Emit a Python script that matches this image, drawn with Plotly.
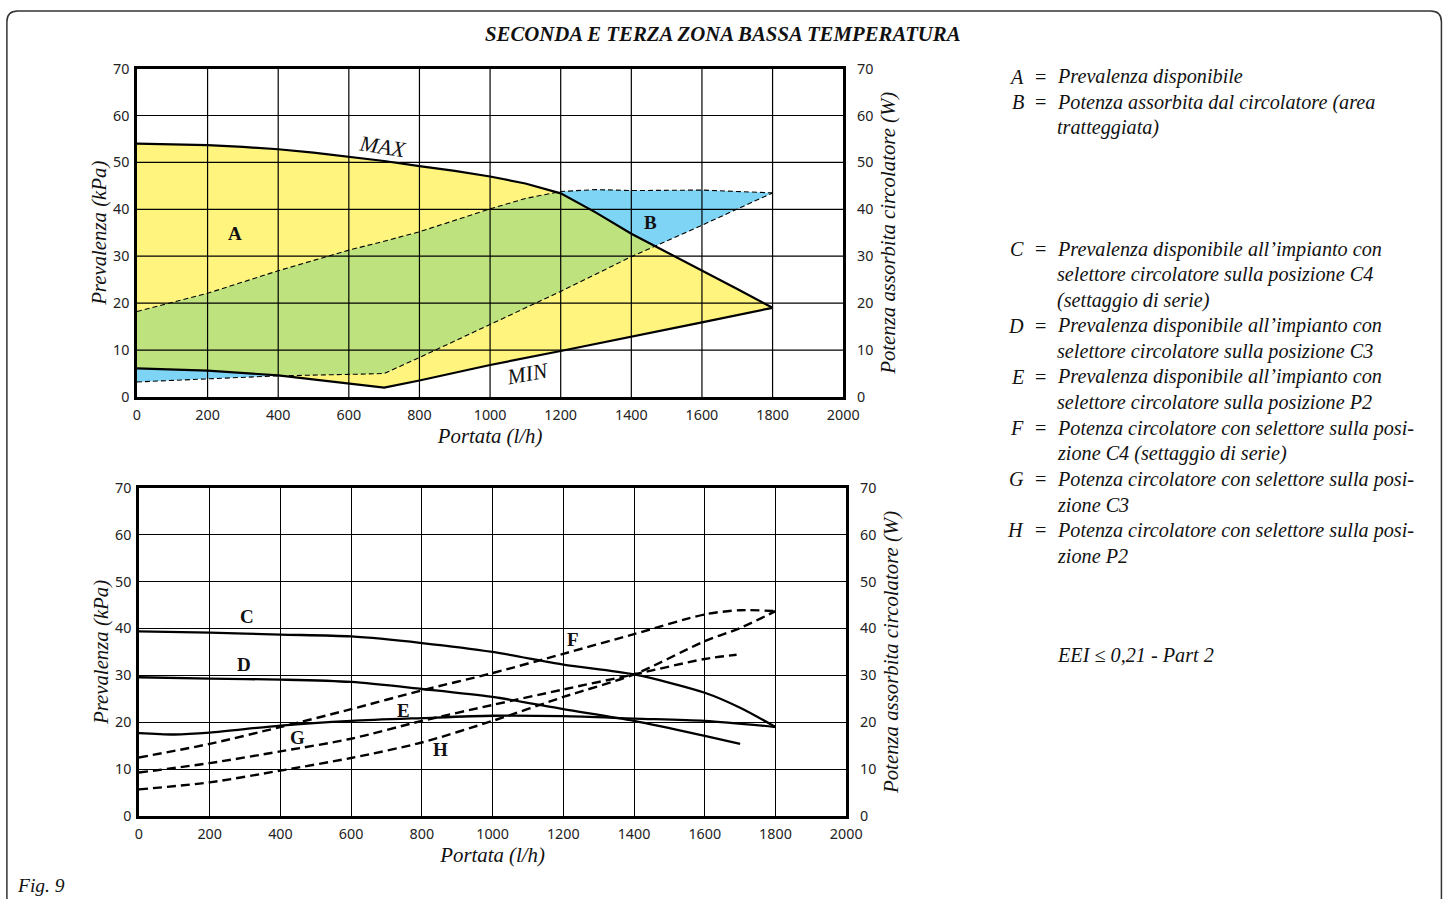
import numpy as np
import plotly.graph_objects as go

W, H = 1466, 908

# ---------------- data: top chart ----------------
MAX_X = [0, 100, 200, 300, 400, 500, 600, 700, 800, 900, 1000, 1100, 1200, 1300, 1400, 1500, 1600, 1700, 1800]
MAX_Y = [54.0, 53.9, 53.7, 53.3, 52.8, 52.1, 51.2, 50.3, 49.2, 48.2, 47.0, 45.5, 43.4, 39.3, 34.8, 30.9, 27.0, 23.0, 19.0]
MIN_X = [0, 200, 400, 600, 700, 800, 1000, 1200, 1400, 1600, 1800]
MIN_Y = [6.1, 5.6, 4.6, 2.8, 2.0, 3.5, 6.8, 9.8, 12.8, 15.9, 19.0]
PUP_X = [0, 200, 400, 600, 700, 800, 1000, 1100, 1200, 1300, 1400, 1600, 1800]
PUP_Y = [18.2, 22.1, 26.9, 31.3, 33.2, 35.2, 40.1, 42.3, 43.8, 44.2, 44.0, 44.1, 43.5]
PLO_X = [0, 200, 400, 600, 700, 800, 1000, 1200, 1400, 1600, 1800]
PLO_Y = [3.2, 3.9, 4.5, 4.8, 5.0, 8.4, 15.4, 22.5, 29.9, 36.6, 43.5]

# ---------------- data: bottom chart ----------------
C_X = [0, 200, 400, 600, 800, 1000, 1200, 1400, 1600, 1700, 1800]
C_Y = [39.4, 39.1, 38.7, 38.3, 36.9, 35.0, 32.3, 30.2, 26.3, 23.1, 19.0]
D_X = [0, 200, 400, 600, 800, 1000, 1200, 1400, 1600, 1700]
D_Y = [29.6, 29.3, 29.1, 28.6, 27.1, 25.4, 22.8, 20.3, 17.1, 15.4]
E_X = [0, 100, 200, 400, 600, 800, 1000, 1200, 1400, 1600, 1800]
E_Y = [17.7, 17.4, 17.8, 19.3, 20.3, 20.9, 21.4, 21.3, 20.8, 20.3, 19.0]
F_X = [0, 200, 400, 600, 800, 1000, 1200, 1400, 1600, 1700, 1800]
F_Y = [12.5, 15.4, 19.0, 22.8, 26.8, 30.5, 34.6, 38.8, 43.0, 43.9, 43.7]
G_X = [0, 200, 400, 600, 800, 1000, 1200, 1400, 1600, 1690]
G_Y = [9.3, 11.3, 13.8, 16.5, 20.3, 23.7, 27.0, 30.2, 33.5, 34.4]
H_X = [0, 200, 400, 600, 800, 1000, 1200, 1400, 1600, 1700, 1800]
H_Y = [5.7, 7.2, 9.7, 12.4, 15.7, 20.3, 25.4, 30.2, 37.3, 40.1, 43.7]

X_TICKS = list(range(0, 2001, 200))
Y_TICKS = list(range(0, 71, 10))

TITLE = "SECONDA E TERZA ZONA BASSA TEMPERATURA"
X_TITLE = "Portata (l/h)"
YL_TITLE = "Prevalenza (kPa)"
YR_TITLE = "Potenza assorbita circolatore (W)"

LEGEND_GROUP_1 = [
    ("A", "Prevalenza disponibile"),
    ("B", "Potenza assorbita dal circolatore (area"),
    ("", "tratteggiata)"),
]
LEGEND_GROUP_2 = [
    ("C", "Prevalenza disponibile all\u2019impianto con"),
    ("", "selettore circolatore sulla posizione C4"),
    ("", "(settaggio di serie)"),
    ("D", "Prevalenza disponibile all\u2019impianto con"),
    ("", "selettore circolatore sulla posizione C3"),
    ("E", "Prevalenza disponibile all\u2019impianto con"),
    ("", "selettore circolatore sulla posizione P2"),
    ("F", "Potenza circolatore con selettore sulla posi-"),
    ("", "zione C4 (settaggio di serie)"),
    ("G", "Potenza circolatore con selettore sulla posi-"),
    ("", "zione C3"),
    ("H", "Potenza circolatore con selettore sulla posi-"),
    ("", "zione P2"),
]
EEI_TEXT = "EEI \u2264 0,21 - Part 2"
FIG_TEXT = "Fig. 9"

YELLOW = "#FFF47E"
GREEN = "#BEE37E"
BLUE = "#7DD4F4"

SERIF = "Liberation Serif"
SANS = "Noto Sans"

# the captured picture is slightly scaled/offset relative to the page; compensate
SX, OX = 0.986, 4.1
SY, OY = 0.981, 8.3


def dx(X):
    return (X - OX) / SX


def dy(Y):
    return (Y - OY) / SY


def px(X):
    return min(max(dx(X) / W, 0.0), 1.0)


def py(Y):
    return min(max(1 - dy(Y) / H, 0.0), 1.0)


fig = go.Figure()

# ---------------- top chart fills (derived from the curves) ----------------
xs = np.linspace(0, 1800, 3601)
mx = np.interp(xs, MAX_X, MAX_Y)
mn = np.interp(xs, MIN_X, MIN_Y)
up = np.interp(xs, PUP_X, PUP_Y)
lo = np.interp(xs, PLO_X, PLO_Y)


def poly(upper, lower):
    m = upper > lower + 1e-9
    xv = xs[m]
    return np.concatenate([xv, xv[::-1]]), np.concatenate([upper[m], lower[m][::-1]])


def add_fill(upper, lower, color):
    fx, fy = poly(upper, lower)
    fig.add_trace(go.Scatter(x=fx, y=fy, fill="toself", fillcolor=color, mode="none",
                             hoverinfo="skip", showlegend=False, xaxis="x", yaxis="y"))


add_fill(mx, mn, YELLOW)
add_fill(np.minimum(up, mx), np.maximum(lo, mn), GREEN)
add_fill(up, np.maximum(lo, mx), BLUE)
add_fill(np.minimum(up, mn), lo, BLUE)

# top chart lines
for X, Y, dash, w in [(PUP_X, PUP_Y, "5px,3px", 1.1), (PLO_X, PLO_Y, "5px,3px", 1.1),
                      (MAX_X, MAX_Y, None, 2.2), (MIN_X, MIN_Y, None, 2.2)]:
    fig.add_trace(go.Scatter(x=X, y=Y, mode="lines", showlegend=False, hoverinfo="skip",
                             line=dict(color="black", width=w, dash=dash),
                             xaxis="x", yaxis="y"))

# ---------------- bottom chart lines ----------------
for X, Y in [(C_X, C_Y), (D_X, D_Y), (E_X, E_Y)]:
    fig.add_trace(go.Scatter(x=X, y=Y, mode="lines", showlegend=False, hoverinfo="skip",
                             line=dict(color="black", width=2.3, shape="spline", smoothing=0.8),
                             xaxis="x2", yaxis="y2"))
for X, Y in [(F_X, F_Y), (G_X, G_Y), (H_X, H_Y)]:
    fig.add_trace(go.Scatter(x=X, y=Y, mode="lines", showlegend=False, hoverinfo="skip",
                             line=dict(color="black", width=2.4, dash="9px,5px", shape="spline", smoothing=0.8),
                             xaxis="x2", yaxis="y2"))

# helper traces so that the right-hand (power) axes are drawn
for xa, ya in [("x", "y3"), ("x2", "y4")]:
    fig.add_trace(go.Scatter(x=[None], y=[None], mode="lines", showlegend=False,
                             hoverinfo="skip", xaxis=xa, yaxis=ya))

# ---------------- axes ----------------
tickfont = dict(family=SANS, size=14.3, color="#222")
titlefont = dict(family=SERIF, size=20.8, color="#111")


def xax(domain, anchor, grid):
    return dict(domain=domain, anchor=anchor, range=[0, 2000], tickvals=X_TICKS,
                showgrid=grid, gridcolor="black", gridwidth=1.2, zeroline=False,
                showline=True, linecolor="black", linewidth=2.5, mirror=True,
                ticks="outside", ticklen=3, tickcolor="rgba(0,0,0,0)", tickfont=tickfont,
                title=dict(text="<i>" + X_TITLE + "</i>", font=titlefont, standoff=4))


def yax(domain, anchor, grid):
    return dict(domain=domain, anchor=anchor, range=[0, 70], tickvals=Y_TICKS,
                showgrid=grid, gridcolor="black", gridwidth=1.2, zeroline=False,
                showline=True, linecolor="black", linewidth=2.5, mirror=True,
                ticks="outside", ticklen=2, tickcolor="rgba(0,0,0,0)", tickfont=tickfont,
                title=dict(text="<i>" + YL_TITLE + "</i>", font=titlefont, standoff=1))


def yax_r(over, anchor):
    return dict(overlaying=over, anchor=anchor, side="right", range=[0, 70], tickvals=Y_TICKS,
                showgrid=False, zeroline=False, showline=False,
                ticks="outside", ticklen=10, tickcolor="rgba(0,0,0,0)", tickfont=tickfont,
                title=dict(text="<i>" + YR_TITLE + "</i>", font=titlefont, standoff=8))


fig.update_layout(
    width=W, height=H, margin=dict(l=0, r=0, t=0, b=0),
    paper_bgcolor="white", plot_bgcolor="white",
    xaxis=xax([px(137), px(843)], "y", False),
    yaxis=yax([py(396), py(67)], "x", False),
    yaxis3=yax_r("y", "x"),
    xaxis2=xax([px(139), px(846)], "y2", True),
    yaxis2=yax([py(816), py(487)], "x2", True),
    yaxis4=yax_r("y2", "x2"),
)

# top-chart grid drawn above the coloured areas
shapes = []
for v in X_TICKS[1:-1]:
    shapes.append(dict(type="line", xref="x", yref="y", x0=v, x1=v, y0=0, y1=70,
                       line=dict(color="black", width=1.2), layer="above"))
for v in Y_TICKS[1:-1]:
    shapes.append(dict(type="line", xref="x", yref="y", x0=0, x1=2000, y0=v, y1=v,
                       line=dict(color="black", width=1.2), layer="above"))

# frame with rounded corners (clamped to the canvas)
r = 11 / W
rv = 11 / H
fx0, fx1 = px(7), min(px(1441), 1 - 1.0 / W)
fy0 = min(py(4), 1 - 1.0 / H)
fyb = py(904)
path = (f"M {fx0 + r},{fyb - rv} Q {fx0},{fyb - rv} {fx0},{fyb} L {fx0},{fy0 - rv} Q {fx0},{fy0} {fx0 + r},{fy0} "
        f"L {fx1 - r},{fy0} Q {fx1},{fy0} {fx1},{fy0 - rv} L {fx1},{fyb}")
shapes.append(dict(type="path", xref="paper", yref="paper", path=path,
                   line=dict(color="#333", width=1.5), layer="above"))
fig.update_layout(shapes=shapes)

ann = []
PAD = 3  # annotation inner padding


def text(x, y, s, size=20, xanchor="left", font=SERIF, angle=0, xref="paper", yref="paper", color="#111"):
    ann.append(dict(x=x, y=y, xref=xref, yref=yref, text=s, showarrow=False, xanchor=xanchor,
                    yanchor="middle", textangle=angle, font=dict(family=font, size=size, color=color)))


text(px(723), py(32), "<b><i>" + TITLE + "</i></b>", size=20.8, xanchor="center")

# curve labels, top
text(697, 53.4, "<i>MAX</i>", size=22, xanchor="center", angle=9, xref="x", yref="y")
text(1105, 5.1, "<i>MIN</i>", size=22, xanchor="center", angle=-10, xref="x", yref="y")
text(278, 34.9, "<b>A</b>", size=19, xanchor="center", xref="x", yref="y")
text(1453, 37.2, "<b>B</b>", size=19, xanchor="center", xref="x", yref="y")
# curve labels, bottom
for lab, lx, ly in [("C", 305, 42.5), ("D", 297, 32.3), ("E", 747, 22.6),
                    ("F", 1228, 37.7), ("G", 447, 16.8), ("H", 854, 14.3)]:
    text(lx, ly, "<b>" + lab + "</b>", size=19, xanchor="center", xref="x2", yref="y2")


# legend block
def legend_group(items, y_start, step=25.6):
    for i, (letter, s) in enumerate(items):
        y = y_start + i * step
        if letter:
            text(px(1023 + PAD), py(y), "<i>" + letter + "</i>", size=20.2, xanchor="right")
            text(px(1040), py(y), "=", size=20.2, xanchor="center")
        text(px(1058 - PAD), py(y), "<i>" + s + "</i>", size=20.2)


legend_group(LEGEND_GROUP_1, 75)
legend_group(LEGEND_GROUP_2, 248)
text(px(1058 - PAD), py(655), "<i>" + EEI_TEXT + "</i>", size=20.2)
text(px(18 - PAD), py(886), "<i>" + FIG_TEXT + "</i>", size=19.5)

fig.update_layout(annotations=ann)
fig.write_html(
    "out.html",
    config={"displayModeBar": False},
    post_script=("var gd=document.getElementById('{plot_id}');"
                 "document.body.style.margin='0px';document.body.style.overflow='hidden';"
                 "gd.style.position='fixed';gd.style.left='0px';gd.style.top='0px';"),
)
